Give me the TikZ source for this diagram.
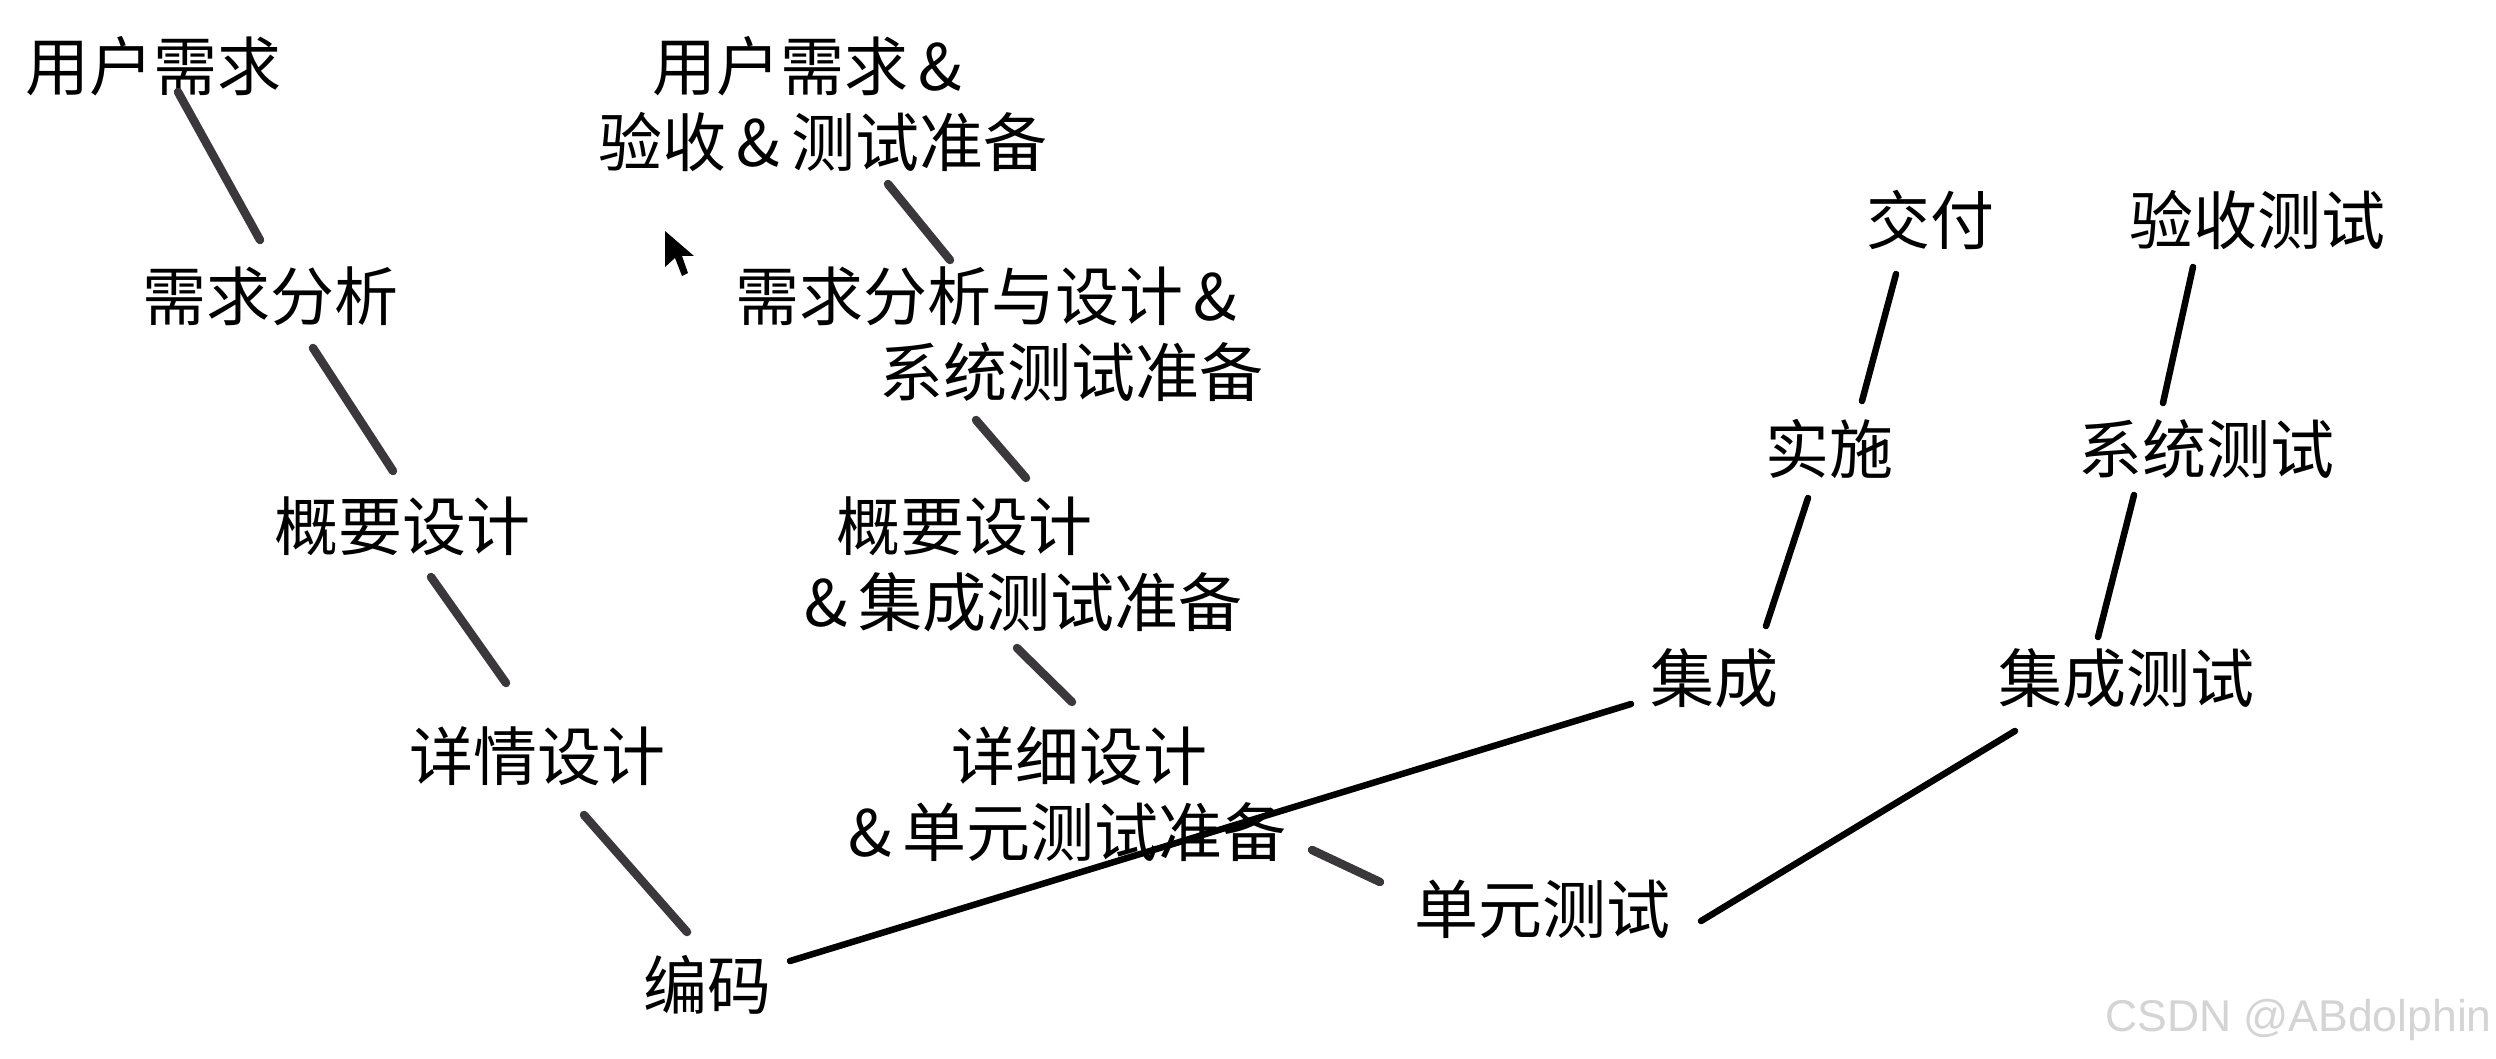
\documentclass[tikz,border=0pt]{standalone}
\usepackage{fontspec}
\setmainfont{Noto Sans CJK SC}
\newfontfamily\wmfont{Liberation Sans}
\usetikzlibrary{positioning}
\definecolor{inkdark}{HTML}{3A383B}
\tikzset{
  step label/.style={font=\fontsize{64}{76}\selectfont,text=black,inner sep=0pt,align=center},
  prep label/.style={step label,align=left,anchor=west},
  grey edge/.style={inkdark,line width=8.5pt,line cap=round},
  black edge/.style={black,line width=6.5pt,line cap=round}
}
\begin{document}
\begin{tikzpicture}[x=1pt,y=-1pt]
  \useasboundingbox (0,0) rectangle (2496,1059);
  % left column
  \node[step label] (ur) at (153,66) {用户需求};
  \node[step label] (ra) at (270,296) {需求分析};
  \node[step label] (hd) at (402.5,526) {概要设计};
  \node[step label] (dd) at (537,756) {详情设计};
  \node[step label] (code) at (707,985) {编码};
  % preparation column
  \node[prep label] (urp) at (598,104) {\hspace*{54pt}用户需求\,\&\\验收\,\&\,测试准备};
  \node[prep label] (rap) at (735,334) {需求分析与设计\,\&\\\hspace*{144pt}系统测试准备};
  \node[prep label] (hdp) at (804,564) {\hspace*{32pt}概要设计\\\&\,集成测试准备};
  \node[prep label] (ddp) at (848,794) {\hspace*{103pt}详细设计\\\&\,单元测试准备};
  % right side
  \node[step label] (ut) at (1542,909) {单元测试};
  \node[step label] (it) at (2126,678) {集成测试};
  \node[step label] (st) at (2206,449) {系统测试};
  \node[step label] (at) at (2257,220) {验收测试};
  \node[step label] (ig) at (1714,678) {集成};
  \node[step label] (im) at (1829,449) {实施};
  \node[step label] (dl) at (1930,220) {交付};
  % connectors
  \coordinate (a1) at (178,92);   \coordinate (a2) at (260,240);
  \coordinate (b1) at (313,348);  \coordinate (b2) at (393,471);
  \coordinate (c1) at (431,577);  \coordinate (c2) at (506,683);
  \coordinate (d1) at (584,815);  \coordinate (d2) at (687,932);
  \coordinate (e1) at (888,184);  \coordinate (e2) at (950,260);
  \coordinate (f1) at (976,420);  \coordinate (f2) at (1026,478);
  \coordinate (g1) at (1017,648); \coordinate (g2) at (1072,702);
  \coordinate (h1) at (1312,850); \coordinate (h2) at (1380,882);
  \draw[grey edge] (a1)--(a2);
  \draw[grey edge] (b1)--(b2);
  \draw[grey edge] (c1)--(c2);
  \draw[grey edge] (d1)--(d2);
  \draw[grey edge] (e1)--(e2);
  \draw[grey edge] (f1)--(f2);
  \draw[grey edge] (g1)--(g2);
  \draw[grey edge] (h1)--(h2);
  \coordinate (i1) at (790,961);  \coordinate (i2) at (1631,704);
  \coordinate (j1) at (1766,626); \coordinate (j2) at (1808,498);
  \coordinate (k1) at (1862,401); \coordinate (k2) at (1896,274);
  \coordinate (l1) at (1701,921); \coordinate (l2) at (2015,731);
  \coordinate (m1) at (2098,637); \coordinate (m2) at (2134,495);
  \coordinate (n1) at (2163,403); \coordinate (n2) at (2193,267);
  \draw[black edge] (i1)--(i2);
  \draw[black edge] (j1)--(j2);
  \draw[black edge] (k1)--(k2);
  \draw[black edge] (l1)--(l2);
  \draw[black edge] (m1)--(m2);
  \draw[black edge] (n1)--(n2);
  % pointer and mark
  \fill[black] (665,231)--(665,267)--(675,258)--(682,276)--(688,273)--(682,256)--(694,256)--cycle;
  \node[font=\wmfont\fontsize{44.5}{50}\selectfont,text=black!17,inner sep=0pt,anchor=east] (wm) at (2492,1020) {CSDN @ABdolphin};
\end{tikzpicture}
\end{document}
